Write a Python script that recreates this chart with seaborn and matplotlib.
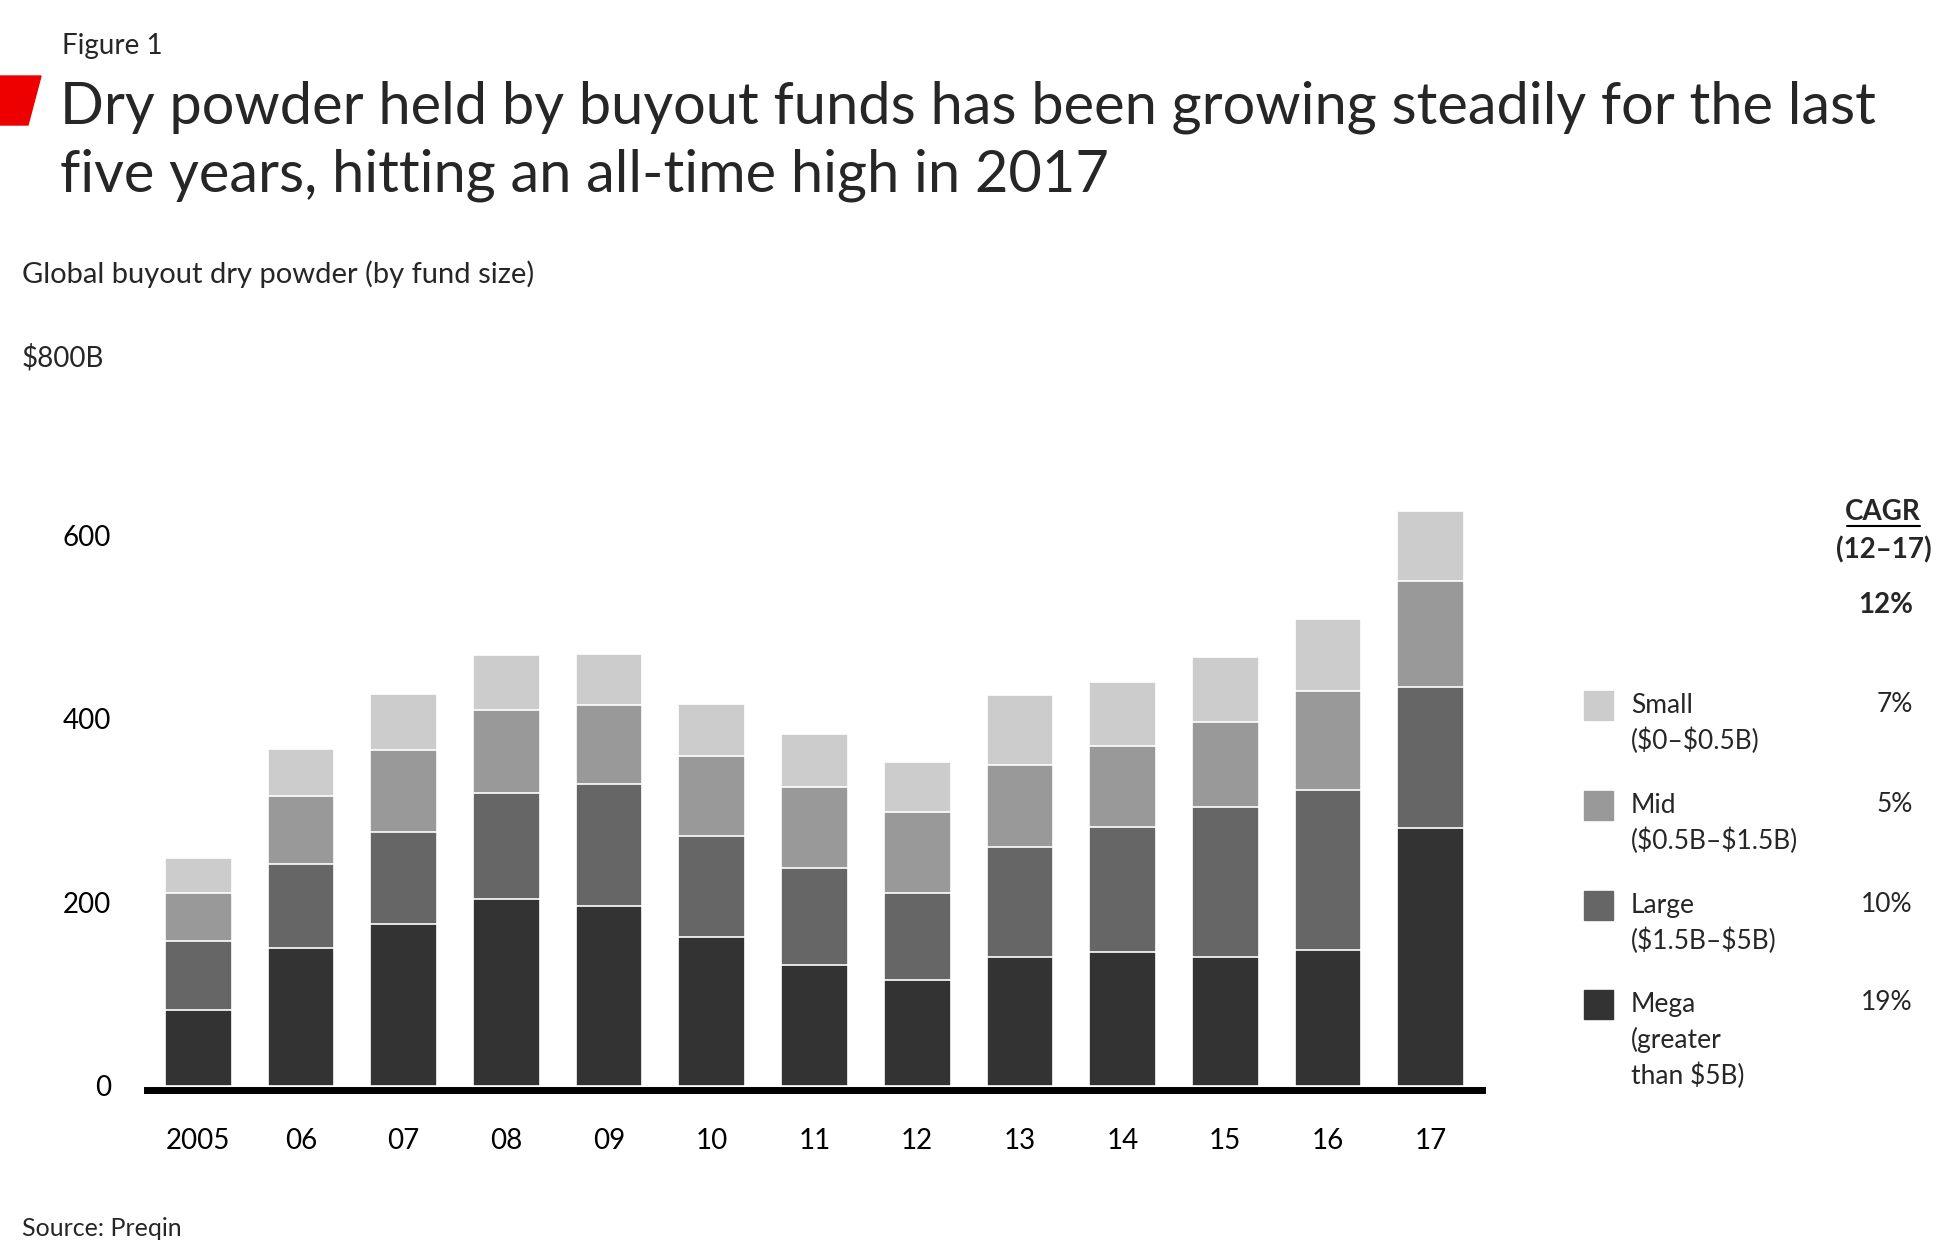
import pandas as pd
import numpy as np
import matplotlib
matplotlib.use('Agg')
import matplotlib.pyplot as plt
from matplotlib.patches import Rectangle, Polygon
import seaborn as sns

# --------------------------------------------------
# Data ($B)
# --------------------------------------------------
years = ['2005', '06', '07', '08', '09', '10', '11', '12', '13', '14', '15', '16', '17']
segments = ['Mega', 'Large', 'Mid', 'Small']
mega = [83, 150, 177, 204, 196, 162, 132, 115, 140, 146, 140, 148, 281]
large = [75, 92, 100, 115, 133, 110, 106, 95, 120, 136, 164, 174, 154]
mid = [52, 74, 89, 91, 86, 87, 88, 89, 90, 88, 93, 108, 115]
small = [38, 51, 61, 60, 56, 57, 57, 54, 76, 70, 70, 79, 76]
colors = ['#333333', '#666666', '#999999', '#cccccc']

legend_labels = ['Small\n(\\$0–\\$0.5B)', 'Mid\n(\\$0.5B–\\$1.5B)',
                 'Large\n(\\$1.5B–\\$5B)', 'Mega\n(greater\nthan \\$5B)']
legend_cagr = ['7%', '5%', '10%', '19%']
total_cagr = '12%'
y_ticks = [0, 200, 400, 600]

# long table + cumulative sums for stacking
df = pd.DataFrame({'year': years * 4,
                   'segment': np.repeat(segments, len(years)),
                   'value': mega + large + mid + small})
df['cum'] = df.groupby('year', sort=False).value.cumsum()

# --------------------------------------------------
# Figure
# --------------------------------------------------
sns.set_style('white')
plt.rcParams['font.family'] = ['Lato', 'DejaVu Sans']

W, H = 1950, 1258
fig = plt.figure(figsize=(W / 100, H / 100), dpi=100)

def fx(px):
    return px / W

def fy(py):
    return 1 - py / H

ax = fig.add_axes([fx(147), fy(1086), fx(1482) - fx(147), fy(351.6) - fy(1086)])

# draw tallest cumulative first so the lower segments sit on top
for seg, col in reversed(list(zip(segments, colors))):
    sub = df[df.segment == seg]
    sns.barplot(data=sub, x='year', y='cum', order=years, color=col, saturation=1,
                width=0.65, edgecolor='white', linewidth=1.2, errorbar=None, ax=ax)

ax.set_xlim(-0.5, 12.5)
ax.set_ylim(0, 800)
ax.set_yticks(y_ticks)
ax.set_yticklabels([str(t) for t in y_ticks])
ax.set_xlabel('')
ax.set_ylabel('')
ax.tick_params(axis='both', length=0, labelsize=20, colors='black')
ax.tick_params(axis='y', pad=26)
ax.tick_params(axis='x', pad=27)
for s in ['top', 'right', 'left']:
    ax.spines[s].set_visible(False)
ax.spines['bottom'].set_linewidth(5)
ax.spines['bottom'].set_color('black')
ax.spines['bottom'].set_position(('outward', 3))

# --------------------------------------------------
# Headings and notes
# --------------------------------------------------
fig.text(fx(62), fy(46), 'Figure 1', fontsize=20, va='center', ha='left')
fig.add_artist(Polygon([(fx(0), fy(76)), (fx(41), fy(76)), (fx(28), fy(125)), (fx(0), fy(125))],
                       closed=True, color='#ee0000', transform=fig.transFigure))
fig.text(fx(60), fy(124), 'Dry powder held by buyout funds has been growing steadily for the last',
         fontsize=41.6, va='baseline', ha='left')
fig.text(fx(60), fy(191), 'five years, hitting an all-time high in 2017',
         fontsize=41.6, va='baseline', ha='left')
fig.text(fx(22), fy(283), 'Global buyout dry powder (by fund size)', fontsize=21, va='baseline', ha='left')
fig.text(fx(22), fy(367), '\\$800B', fontsize=20, va='baseline', ha='left')
fig.text(fx(22), fy(1236), 'Source: Preqin', fontsize=18, va='baseline', ha='left')

# --------------------------------------------------
# Legend with CAGR column
# --------------------------------------------------
fig.text(fx(1883), fy(512), 'CAGR', fontsize=20, fontweight='bold', ha='center', va='center')
fig.add_artist(plt.Line2D([fx(1847), fx(1920)], [fy(526), fy(526)], color='black', lw=1.5,
                          transform=fig.transFigure))
fig.text(fx(1884), fy(550), '(12–17)', fontsize=20, fontweight='bold', ha='center', va='center')
fig.text(fx(1913), fy(605), total_cagr, fontsize=20, fontweight='bold', ha='right', va='center')

legend_tops = [691, 791, 891, 990]
legend_colors = colors[::-1]
for top, lab, cagr, col in zip(legend_tops, legend_labels, legend_cagr, legend_colors):
    fig.add_artist(Rectangle((fx(1584), fy(top + 29)), fx(29), 29 / H, color=col,
                             transform=fig.transFigure))
    fig.text(fx(1631), fy(top + 2), lab, fontsize=19, ha='left', va='top', linespacing=1.45)
    fig.text(fx(1913), fy(top + 13), cagr, fontsize=19, ha='right', va='center')

fig.savefig('out.png', dpi=100, facecolor='white')
